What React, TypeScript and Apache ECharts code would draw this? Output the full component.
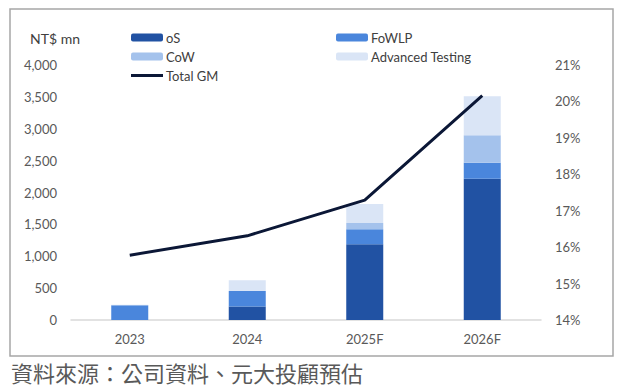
import React, { useEffect, useRef } from "react";
import * as echarts from "echarts";

const categories = ["2023", "2024", "2025F", "2026F"];
const osValues = [0, 210, 1190, 2215];
const fowlpValues = [230, 245, 235, 250];
const cowValues = [0, 0, 95, 435];
const advTestingValues = [10, 170, 300, 610];
const totalGM = [15.78, 16.31, 17.29, 20.16];
const leftTicks = { min: 0, max: 4000, interval: 500 };
const rightTicks = { min: 14, max: 21, interval: 1 };

const FONT = "Lato, 'Noto Sans', sans-serif";
const LINE_ICON = "path://M0,0 M0,2.5 L32,2.5 L32,5.5 L0,5.5 Z M32,8";

export default function App() {
  const ref = useRef<HTMLDivElement>(null);
  useEffect(() => {
    if (!ref.current) return;
    const chart = echarts.init(ref.current, undefined, { renderer: "svg" });
    const barBase = { type: "bar", stack: "rev", barWidth: 37, yAxisIndex: 0 };
    const legendText = { fontSize: 13, color: "#404040", fontFamily: FONT, padding: [0, 0, 0, -2] };
    chart.setOption({
      animation: false,
      backgroundColor: "#ffffff",
      textStyle: { fontFamily: FONT },
      grid: { left: 71, right: 79, top: 65, bottom: 71 },
      legend: [
        {
          left: 131,
          top: 31,
          padding: 0,
          orient: "vertical",
          itemWidth: 32,
          itemHeight: 8,
          itemGap: 6,
          textStyle: legendText,
          data: ["oS", "CoW", { name: "Total GM", icon: LINE_ICON, itemStyle: { color: "#0B1736" } }],
        },
        {
          left: 336,
          top: 31,
          padding: 0,
          orient: "vertical",
          itemWidth: 32,
          itemHeight: 8,
          itemGap: 6,
          textStyle: legendText,
          data: ["FoWLP", "Advanced Testing"],
        },
      ],
      xAxis: {
        type: "category",
        data: categories,
        axisLine: { lineStyle: { color: "#d9d9d9", width: 1.5 } },
        axisTick: { show: false },
        axisLabel: { color: "#595959", fontSize: 13, fontFamily: FONT, margin: 12 },
      },
      yAxis: [
        {
          type: "value",
          ...leftTicks,
          splitLine: { show: false },
          axisLine: { show: false },
          axisTick: { show: false },
          axisLabel: {
            color: "#595959",
            fontSize: 13,
            fontFamily: FONT,
            margin: 14,
            formatter: (v: number) => v.toLocaleString("en-US"),
          },
        },
        {
          type: "value",
          ...rightTicks,
          position: "right",
          splitLine: { show: false },
          axisLine: { show: false },
          axisTick: { show: false },
          axisLabel: { color: "#595959", fontSize: 13, fontFamily: FONT, margin: 14, formatter: "{value}%" },
        },
      ],
      series: [
        { ...barBase, name: "oS", data: osValues, itemStyle: { color: "#2152A3" } },
        { ...barBase, name: "FoWLP", data: fowlpValues, itemStyle: { color: "#4A86DC" } },
        { ...barBase, name: "CoW", data: cowValues, itemStyle: { color: "#A4C2EC" } },
        { ...barBase, name: "Advanced Testing", data: advTestingValues, itemStyle: { color: "#DAE5F6" } },
        {
          type: "line",
          name: "Total GM",
          yAxisIndex: 1,
          data: totalGM,
          symbol: "none",
          lineStyle: { color: "#0B1736", width: 3 },
          itemStyle: { color: "#0B1736" },
        },
      ],
      graphic: [
        {
          type: "rect",
          shape: { x: 10, y: 9, width: 603, height: 347 },
          style: { fill: "none", stroke: "#a6a6a6", lineWidth: 1.5 },
          silent: true,
        },
        {
          type: "text",
          left: 30,
          top: 31,
          style: { text: "NT$ mn", fontSize: 14, fill: "#404040", fontFamily: FONT },
        },
        {
          type: "text",
          left: 11,
          top: 361,
          style: {
            text: "資料來源：公司資料、元大投顧預估",
            fontSize: 22,
            fill: "#595959",
            fontFamily: "'Noto Sans CJK TC', sans-serif",
          },
        },
      ],
    });
    return () => chart.dispose();
  }, []);
  return <div ref={ref} style={{ position: "fixed", left: 0, top: 0, width: 620, height: 391 }} />;
}
